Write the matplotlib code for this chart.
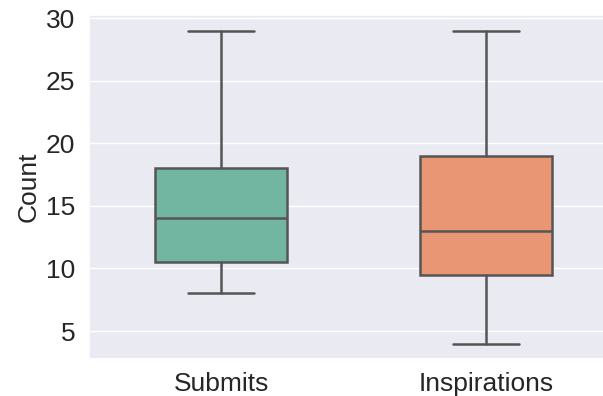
import matplotlib.pyplot as plt
import seaborn as sns
from matplotlib.colors import to_rgb
import colorsys

# Box statistics
categories = ['Submits', 'Inspirations']
whisker_low = [8, 4]
q1 = [10.5, 9.5]
median = [14, 13]
q3 = [18, 19]
whisker_high = [29, 29]

sns.set_theme(style='darkgrid')
plt.rcParams['font.family'] = ['Liberation Sans', 'DejaVu Sans']


def desaturate(color, prop=0.75):
    h, l, s = colorsys.rgb_to_hls(*to_rgb(color))
    return colorsys.hls_to_rgb(h, l, s * prop)


colors = [desaturate(c) for c in sns.color_palette('Set2', 2)]
line_color = '#555555'

stats = []
for i, name in enumerate(categories):
    stats.append({'label': name, 'whislo': whisker_low[i], 'q1': q1[i],
                  'med': median[i], 'q3': q3[i], 'whishi': whisker_high[i],
                  'fliers': []})

fig, ax = plt.subplots(figsize=(6.03, 3.96), dpi=100)
bp = ax.bxp(stats, positions=range(len(categories)), widths=0.5,
            patch_artist=True, showfliers=False,
            boxprops=dict(edgecolor=line_color, linewidth=1.8),
            medianprops=dict(color=line_color, linewidth=1.8),
            whiskerprops=dict(color=line_color, linewidth=1.8),
            capprops=dict(color=line_color, linewidth=1.8))
for patch, c in zip(bp['boxes'], colors):
    patch.set_facecolor(c)
for cap in bp['caps']:
    x = cap.get_xdata()
    mid = (x[0] + x[1]) / 2
    cap.set_xdata([mid - 0.125, mid + 0.125])

ax.set_xlim(-0.5, 1.5)
ax.set_ylim(2.75, 30.25)
ax.grid(False, axis='x')
ax.set_ylabel('Count', fontsize=19)
ax.tick_params(axis='both', labelsize=19)
ax.set_yticks([5, 10, 15, 20, 25, 30])

# the original axes run slightly past the right edge of the image
fig.subplots_adjust(left=0.147, right=1.026, top=0.962, bottom=0.093)
fig.savefig('out.png')
